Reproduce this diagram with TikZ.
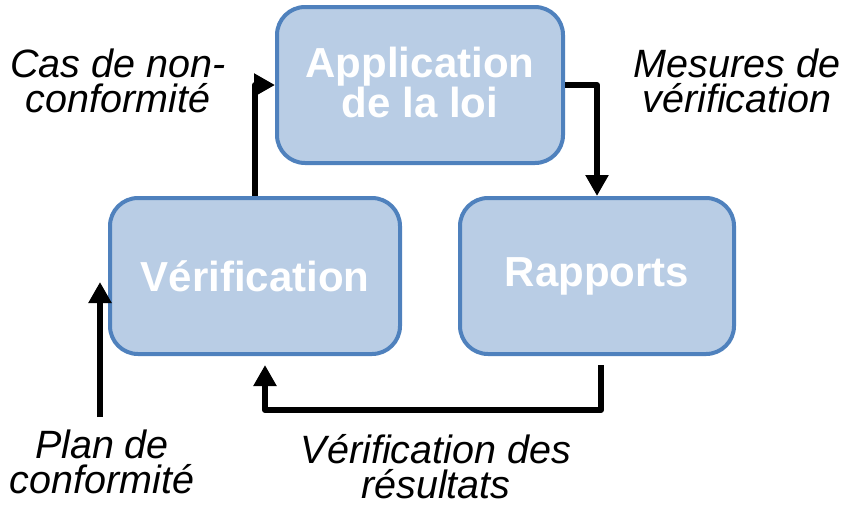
\documentclass[tikz,border=0pt]{standalone}
\usepackage{fontspec}
\setmainfont{Liberation Sans}
\usetikzlibrary{arrows.meta,calc}
\definecolor{boxfill}{HTML}{B9CDE5}
\definecolor{boxline}{HTML}{4F81BD}
\begin{document}
\begin{tikzpicture}[x=1pt,y=-1pt,
  stagebox/.style={draw=boxline,fill=boxfill,line width=4pt,rounded corners=28pt,
    text=white,align=center,inner sep=0pt,
    font=\fontsize{42}{40}\selectfont\bfseries},
  flow/.style={line width=6pt,line join=round,-{Triangle[length=21pt,width=22pt]}},
  lbl/.style={align=center,inner sep=0pt,anchor=base,
    font=\fontsize{39.5}{35}\selectfont\itshape}]
\useasboundingbox (0,0) rectangle (850,512);
\node[stagebox,minimum width=286pt,minimum height=156pt,text depth=6pt] (app) at (420,85) {Application\\de la loi};
\node[stagebox,minimum width=290pt,minimum height=156pt] (verif) at (255,276) {Vérification};
\node[stagebox,minimum width=274pt,minimum height=156pt] (rap) at (597,276) {Rapports};
\coordinate (planstart) at (100,417);
\coordinate (planend) at (100,282);
\draw[flow] (verif.north) |- (app.west);
\draw[flow] (app.east) -| (rap.north);
\draw[flow] ([shift={(4,9)}]rap.south) -- ++(0,45) -| ([shift={(10,9)}]verif.south);
\draw[flow] (planstart) -- (planend);
\node[lbl] (l1) at (118,112) {Cas de non-\\conformité};
\node[lbl] (l2) at (737,112) {Mesures de\\vérification};
\node[lbl] (l3) at (102,493) {Plan de\\conformité};
\node[lbl] (l4) at (436,498) {Vérification des\\résultats};
\end{tikzpicture}
\end{document}
